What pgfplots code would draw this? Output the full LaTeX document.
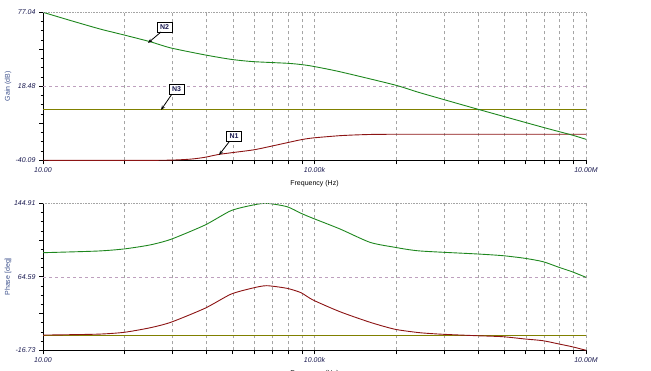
\documentclass[border=0pt]{standalone}
\usepackage{pgfplots}
\pgfplotsset{compat=1.18}
\usepackage{fontspec}
\setmainfont{Liberation Sans}
\usetikzlibrary{arrows.meta}
\definecolor{cgreen}{RGB}{30,135,30}
\definecolor{cred}{RGB}{140,20,20}
\definecolor{colive}{RGB}{128,128,0}
\definecolor{ticktext}{RGB}{25,25,80}
\definecolor{labtext}{RGB}{60,80,140}
\definecolor{gridc}{RGB}{165,165,165}
\definecolor{hgrid}{RGB}{190,160,190}

\begin{document}
\begin{tikzpicture}
\useasboundingbox (0,0) rectangle (651pt,371pt);

% ---------- Gain ----------
\begin{axis}[at={(43pt,210.7pt)}, anchor=south west,
  scale only axis, width=543pt, height=148pt,
  xmode=log, xmin=10, xmax=1e7,
  axis x line*=bottom, axis y line*=left,
  axis line style={black, line width=0.8pt},
  xtick={10,1e4,1e7}, xticklabels={10.00,10.00k,10.00M},
  extra x ticks={80,270,640,1250,2160,3430,5120,7290,8e4,2.7e5,6.4e5,1.25e6,2.16e6,3.43e6,5.12e6,7.29e6},
  extra x tick labels={},
  xmajorgrids,
  major grid style={dashed, gridc, line width=0.5pt},
  tick align=outside, major tick length=4pt, minor tick length=2.5pt,
  tick style={black, line width=0.6pt},
  ticklabel style={font=\fontsize{7}{8}\selectfont\itshape, text=ticktext},
  label style={font=\fontsize{7}{8}\selectfont},
  ylabel style={text=labtext, at={(axis description cs:-0.0645,0.5)}, anchor=center},
  xlabel style={at={(axis description cs:0.5,0)}, anchor=center, yshift=-23pt},
  xlabel={Frequency (Hz)},
  ymin=-40.09, ymax=77.04,
  ytick={-40.09,-10.8075,47.7575,77.04}, yticklabels={-40.09,,,77.04},
  minor ytick={-32.769,-25.449,-18.128,-3.487,3.834,11.154,25.796,33.116,40.437,55.078,62.399,69.719},
  extra y ticks={18.475}, extra y tick labels={18.48},
  extra y tick style={grid=major, major grid style={dashed, hgrid, line width=0.5pt}},
  ylabel={Gain (dB)}]
\addplot[colive, line width=0.9pt, no marks] coordinates {(10,0.5)(1e7,0.5)};
\addplot[cred, line width=0.9pt, no marks, smooth, tension=0.4] coordinates {(10,-40.09)(196,-40.09)(421,-39.2)(617,-37.7)(903,-35.3)(2090,-31.9)(3390,-28.8)(4966,-26.2)(7096,-23.8)(9616,-22.4)(19100,-20.6)(35000,-19.8)(77400,-19.5)(1e7,-19.5)};
\addplot[cgreen, line width=0.9pt, no marks, smooth, tension=0.4] coordinates {(10,77.04)(20,70.6)(42.7,63.8)(78.5,59.1)(152,53.8)(259,48.8)(617,43.3)(1194,39.8)(2090,38.0)(4966,36.7)(7096,35.7)(9616,34.3)(19100,30.0)(77400,19.5)(146000,13.4)(625000,0.5)(3350000,-14.0)(7000000,-20.1)(1e7,-23.5)};
\draw[densely dotted, gridc, line width=0.6pt] (rel axis cs:0,1) -- (rel axis cs:1,1) -- (rel axis cs:1,0);
\end{axis}

% ---------- Phase ----------
\begin{axis}[at={(43pt,20.7pt)}, anchor=south west,
  scale only axis, width=543pt, height=147pt,
  xmode=log, xmin=10, xmax=1e7,
  axis x line*=bottom, axis y line*=left,
  axis line style={black, line width=0.8pt},
  xtick={10,1e4,1e7}, xticklabels={10.00,10.00k,10.00M},
  extra x ticks={80,270,640,1250,2160,3430,5120,7290,8e4,2.7e5,6.4e5,1.25e6,2.16e6,3.43e6,5.12e6,7.29e6},
  extra x tick labels={},
  xmajorgrids,
  major grid style={dashed, gridc, line width=0.5pt},
  tick align=outside, major tick length=4pt, minor tick length=2.5pt,
  tick style={black, line width=0.6pt},
  ticklabel style={font=\fontsize{7}{8}\selectfont\itshape, text=ticktext},
  label style={font=\fontsize{7}{8}\selectfont},
  ylabel style={text=labtext, at={(axis description cs:-0.0645,0.5)}, anchor=center},
  xlabel style={at={(axis description cs:0.5,0)}, anchor=center, yshift=-23pt},
  xlabel={Frequency (Hz)},
  ymin=-16.73, ymax=144.91,
  ytick={-16.73,23.68,104.5,144.91}, yticklabels={-16.73,,,144.91},
  minor ytick={-6.6275,3.475,13.5775,33.7825,43.885,53.9875,74.1925,84.295,94.3975,114.6025,124.705,134.8075},
  extra y ticks={64.09}, extra y tick labels={64.59},
  extra y tick style={grid=major, major grid style={dashed, hgrid, line width=0.5pt}},
  ylabel={Phase [deg]}]
\addplot[colive, line width=0.9pt, no marks] coordinates {(10,0)(1e7,0)};
\addplot[cred, line width=0.9pt, no marks, smooth, tension=0.4] coordinates {(10,0)(40,1.0)(78.5,3.0)(152,8.0)(259,14.1)(617,29.5)(1194,45.0)(2090,51.8)(2966,54.3)(4966,51.4)(7096,46.6)(9616,38.6)(19100,25.7)(41000,14.1)(77400,6.4)(146000,2.6)(260000,0.9)(625000,-0.7)(1210000,-1.8)(2120000,-4.3)(3350000,-6.2)(5030000,-9.8)(7000000,-12.8)(1e7,-16.7)};
\addplot[cgreen, line width=0.9pt, no marks, smooth, tension=0.4] coordinates {(10,90.6)(40,92.4)(78.5,94.7)(152,99.1)(259,105.3)(617,121.0)(1194,136.8)(2090,143.0)(2966,144.9)(4966,141.2)(7096,133.9)(9616,128.4)(19100,116.7)(41000,102.0)(77400,96.5)(146000,92.5)(625000,89.2)(1210000,87.3)(2120000,84.4)(3350000,80.7)(5030000,74.5)(7000000,69.7)(1e7,63.5)};
\draw[densely dotted, gridc, line width=0.6pt] (rel axis cs:0,1) -- (rel axis cs:1,1) -- (rel axis cs:1,0);
\end{axis}

% ---------- marker labels ----------
\tikzset{mk/.style={draw=black, fill=white, line width=0.6pt, minimum width=15pt, minimum height=10pt, inner sep=1pt, font=\fontsize{7}{8}\selectfont\bfseries, text=ticktext},
         mka/.style={line width=0.8pt, -{Stealth[length=4.5pt,width=3.5pt]}}}
\node[mk] at (164.5pt,344pt) {N2};
\draw[mka] (161pt,339pt) -- (148pt,328pt);
\node[mk] at (176.5pt,282pt) {N3};
\draw[mka] (172pt,277pt) -- (161pt,261pt);
\node[mk] at (234pt,234.5pt) {N1};
\draw[mka] (229pt,229pt) -- (219pt,216pt);
\end{tikzpicture}
\end{document}
